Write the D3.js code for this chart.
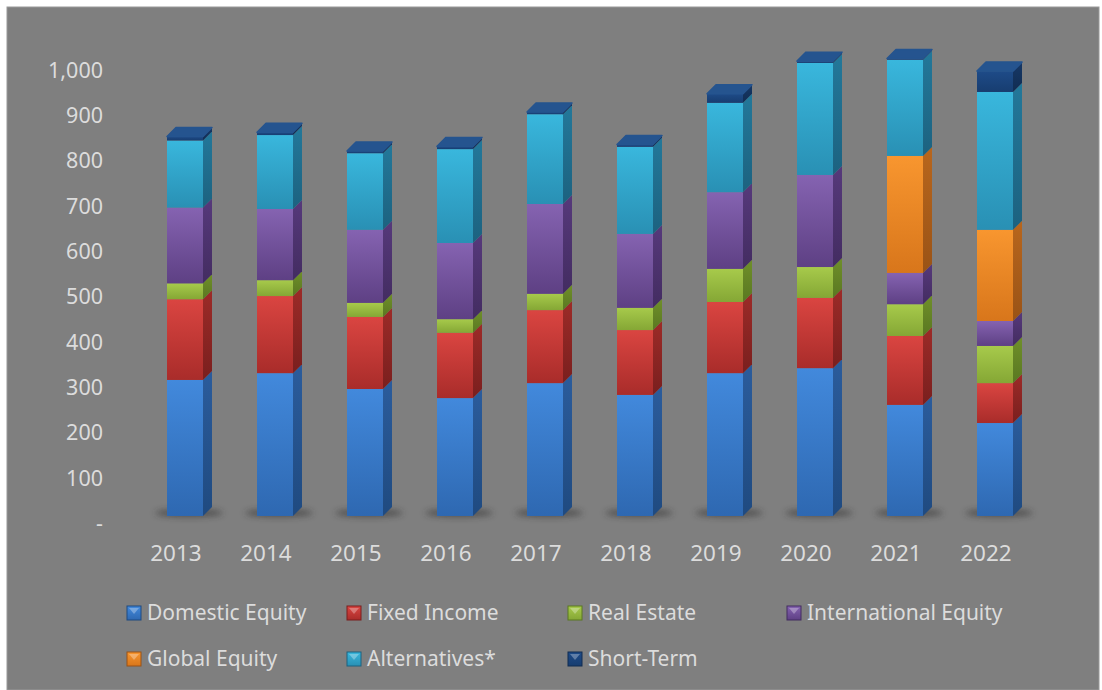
<!DOCTYPE html>
<html>
<head>
<meta charset="utf-8">
<title>Asset allocation 2013-2022</title>
<script src="https://d3js.org/d3.v7.min.js"></script>
<style>
  body { margin: 0; background: #ffffff; }
  text { font-family: "Noto Sans", "Open Sans", sans-serif; fill: #dcdcdc; }
</style>
</head>
<body>
<div id="chart"></div>
<script>
var width = 1102, height = 690;

// data (millions)
var years = ["2013", "2014", "2015", "2016", "2017", "2018", "2019", "2020", "2021", "2022"];
var domesticEquity = [300, 315, 280, 260, 293, 267, 315, 326, 245, 205];
var fixedIncome = [178, 170, 159, 144, 161, 143, 157, 155, 152, 88];
var realEstate = [35, 35, 31, 30, 36, 49, 73, 68, 70, 82];
var internationalEquity = [167, 157, 161, 168, 198, 163, 169, 203, 69, 55];
var globalEquity = [0, 0, 0, 0, 0, 0, 0, 0, 258, 201];
var alternatives = [148, 163, 169, 207, 198, 192, 197, 247, 212, 304];
var shortTerm = [9, 6, 5, 6, 5, 5, 20, 4, 3, 46];
var yTicks = [0, 100, 200, 300, 400, 500, 600, 700, 800, 900, 1000];

var seriesNames = ["Domestic Equity", "Fixed Income", "Real Estate", "International Equity",
                   "Global Equity", "Alternatives*", "Short-Term"];
var seriesValues = [domesticEquity, fixedIncome, realEstate, internationalEquity,
                    globalEquity, alternatives, shortTerm];

// front top, front bottom, side top, side bottom
var shades = [
  ["#4289dc", "#2e68b1", "#2b5c9c", "#1f4a80"],
  ["#da4541", "#a92c2a", "#9c2b28", "#7a1f1e"],
  ["#a7ca4b", "#85a735", "#6f8f2a", "#5a7821"],
  ["#8563b1", "#5e4084", "#56397b", "#432c61"],
  ["#f8962f", "#d8761b", "#b8661d", "#9a5316"],
  ["#39b7dd", "#2990b4", "#23789a", "#1c6280"],
  ["#1e4b88", "#173d70", "#163866", "#112c52"]
];
var capColor = "#25548f";

var table = years.map(function(y, i) {
  var row = {year: y};
  seriesNames.forEach(function(s, k) { row[s] = seriesValues[k][i]; });
  return row;
});
var stacked = d3.stack().keys(seriesNames)(table);

var x = d3.scaleBand().domain(years).range([131, 1031]);
var y = d3.scaleLinear().domain([0, 1000]).range([523.5, 70]);
var lift = 7.5;     // bar front sits a bit above the axis floor
var barW = 36, dx = 9, dy = 9;

var svg = d3.select("#chart").append("svg")
  .attr("width", width).attr("height", height);

var defs = svg.append("defs");
shades.forEach(function(c, k) {
  var g = defs.append("linearGradient").attr("id", "front" + k)
    .attr("x1", 0).attr("y1", 0).attr("x2", 0).attr("y2", 1);
  g.append("stop").attr("offset", "0%").attr("stop-color", c[0]);
  g.append("stop").attr("offset", "100%").attr("stop-color", c[1]);
  var s = defs.append("linearGradient").attr("id", "side" + k)
    .attr("x1", 0).attr("y1", 0).attr("x2", 0).attr("y2", 1);
  s.append("stop").attr("offset", "0%").attr("stop-color", c[2]);
  s.append("stop").attr("offset", "100%").attr("stop-color", c[3]);
});
defs.append("filter").attr("id", "blur")
  .attr("x", "-50%").attr("y", "-200%").attr("width", "200%").attr("height", "500%")
  .append("feGaussianBlur").attr("stdDeviation", 3);

// panel
svg.append("rect").attr("x", 7).attr("y", 7).attr("width", 1092).attr("height", 683)
  .attr("fill", "#7f7f7f").attr("stroke", "#9a9a9a").attr("stroke-width", 1);

// y axis labels
svg.append("g").selectAll("text").data(yTicks).enter().append("text")
  .attr("x", 103).attr("y", function(d) { return y(d); })
  .attr("dy", "0.35em").attr("text-anchor", "end")
  .attr("font-size", 21.5)
  .text(function(d) { return d === 0 ? "-" : d3.format(",")(d); });

// x axis labels
svg.append("g").selectAll("text").data(years).enter().append("text")
  .attr("x", function(d) { return x(d) + x.bandwidth() / 2; })
  .attr("y", 553).attr("dy", "0.35em").attr("text-anchor", "middle")
  .attr("font-size", 22.5)
  .text(function(d) { return d; });

function frontLeft(year) { return x(year) + x.bandwidth() / 2 - 9; }
function yb(v) { return y(v) - lift; }

// shadows on floor
svg.append("g").selectAll("ellipse").data(years).enter().append("ellipse")
  .attr("cx", function(d) { return frontLeft(d) + barW / 2 + 4; })
  .attr("cy", yb(0) - 3)
  .attr("rx", 34).attr("ry", 4)
  .attr("fill", "#2a2a2a").attr("opacity", 0.55)
  .attr("filter", "url(#blur)");

// bars
var bars = svg.append("g").selectAll("g.bar").data(years).enter().append("g").attr("class", "bar");

bars.each(function(year, i) {
  var g = d3.select(this);
  var x0 = frontLeft(year);
  var top = 0;
  stacked.forEach(function(layer, k) {
    var d = layer[i];
    if (d[1] - d[0] <= 0) return;
    var yt = yb(d[1]), ybot = yb(d[0]);
    top = d[1];
    g.append("rect")
      .attr("x", x0).attr("y", yt)
      .attr("width", barW).attr("height", ybot - yt)
      .attr("fill", "url(#front" + k + ")");
    g.append("polygon")
      .attr("points", [[x0 + barW, ybot], [x0 + barW + dx, ybot - dy],
                       [x0 + barW + dx, yt - dy], [x0 + barW, yt]].join(" "))
      .attr("fill", "url(#side" + k + ")");
  });
  var yt = yb(top);
  g.append("polygon")
    .attr("points", [[x0, yt], [x0 + barW, yt], [x0 + barW + dx, yt - dy], [x0 + dx, yt - dy]].join(" "))
    .attr("fill", capColor).attr("stroke", capColor).attr("stroke-width", 1.5)
    .attr("stroke-linejoin", "round");
});

// legend
var legendPos = [[127, 613], [347, 613], [568, 613], [787, 613],
                 [127, 659], [347, 659], [568, 659]];
var legend = svg.append("g").selectAll("g").data(seriesNames).enter().append("g")
  .attr("transform", function(d, i) { return "translate(" + legendPos[i][0] + "," + legendPos[i][1] + ")"; });

legend.append("rect")
  .attr("x", 0).attr("y", -7).attr("width", 14).attr("height", 14)
  .attr("fill", function(d, i) { return "url(#front" + i + ")"; })
  .attr("stroke", function(d, i) { return shades[i][3]; }).attr("stroke-width", 1);
legend.append("polygon")
  .attr("points", "2,-5 12,-5 7,1")
  .attr("fill", "#ffffff").attr("opacity", 0.3);

legend.append("text")
  .attr("x", 20).attr("y", 0).attr("dy", "0.35em")
  .attr("font-size", 21)
  .text(function(d) { return d; });
</script>
</body>
</html>
